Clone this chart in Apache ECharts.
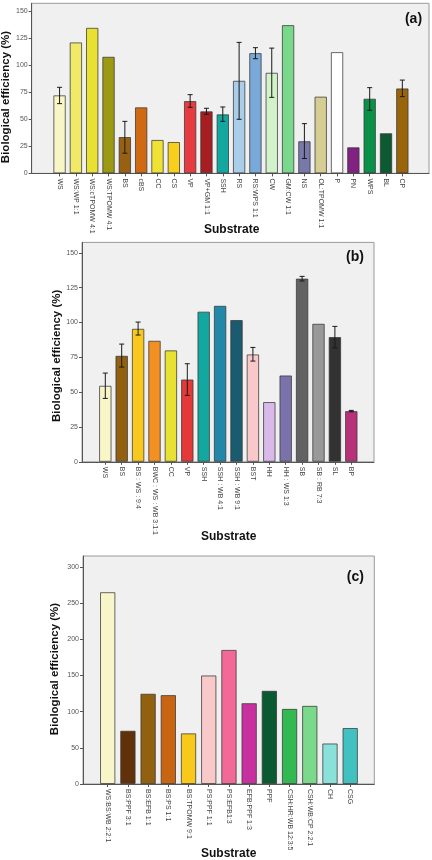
<!DOCTYPE html>
<html>
<head>
<meta charset="utf-8">
<script src="https://cdn.jsdelivr.net/npm/echarts@6/dist/echarts.min.js"></script>
<style>
html,body{margin:0;padding:0;background:#fff;}
#chart{width:432px;height:860px;}
</style>
</head>
<body>
<div id="chart"></div>
<script>
// ---------- Panel (a) ----------
const aCategories = ["WS","WS:WP 1:1","WS:cTPOMW 4:1","WS:TPOMW 4:1","BS","cBS","CC","CS","VP","VP+GM 1:1","SSH","RS","RS:WPS 1:1","CW","GM:CW 1:1","NS","OL:TPOMW 1:1","P","PN","WPS","BL","CP"];
const aValues = [72.3,121.3,134.8,108,33.7,61.2,31,29.1,67,57.5,54.7,85.8,111.4,93.2,137.3,29.8,71.1,112.3,24.2,69.2,37.2,78.7];
const aErrHigh = [79.7,null,null,null,48.2,null,null,null,72.9,60.3,61.5,121.3,116.4,116,null,46.1,null,null,null,79.4,null,86.4];
const aErrLow  = [64.6,null,null,null,18.7,null,null,null,61.2,54.7,48.2,50.1,106.2,70.4,null,13.8,null,null,null,58.4,null,71.1];
const aColors = ["#f8f5c6","#f0ea68","#e9e132","#9c9a12","#976012","#d06a12","#f0e234","#f9cf1e","#e63b40","#a61d22","#12a8a0","#aacde9","#79a9d8","#d2f2ca","#79d88b","#7878aa","#d5cd92","#ffffff","#812282","#0a9149","#0b5a31","#9a650a"];
const aTicks = [0,25,50,75,100,125,150];

// ---------- Panel (b) ----------
const bCategories = ["WS","BS","BS : WS : 9:4","BWC : WS : WB 3:1:1","CC","VP","SSH","SSH : WB 4:1","SSH : WB 9:1","BST","HH","HH : WS 1:3","SB","SB : RB 7:3","SL","BP"];
const bValues = [54.6,76.1,95.5,86.9,80,59.1,107.8,112,101.8,77.1,42.9,62,131.5,99.1,89.6,36.4];
const bErrHigh = [63.7,84.5,100.3,null,null,70.4,null,null,null,82.1,null,null,133.1,null,97.2,36.9];
const bErrLow  = [45.5,68,91,null,null,47.7,null,null,null,72.3,null,null,129.8,null,81.7,35.9];
const bColors = ["#f8f5c8","#916110","#f9c81e","#f29122","#e8e132","#e53838","#12a8a0","#2188a9","#1a5b70","#f9c9c9","#d9b9e9","#7a72aa","#626262","#999999","#323232","#b8327a"];
const bTicks = [0,25,50,75,100,125,150];

// ---------- Panel (c) ----------
const cCategories = ["WS:BS:WB 2:2:1","BS:PPF 3:1","BS:EFB 1:1","BS:PS 1:1","BS:TPOMW 9:1","PS:PPF 1:1","PS:EFB1:3","EFB:PPF 1:3","PPF","CSH:HR:WB 12:3:5","CSH:WB:CP 2:2:1","CH","CSG"];
const cValues = [265,73.6,124.7,122.8,70,150,185.3,111.7,128.8,103.8,108,56,77.4];
const cColors = ["#f8f6c8","#613209","#916110","#c86512","#f8c91a","#f9c8c9","#f26998","#c8309f","#0a5a31","#32b952","#7ad98a","#8ae1d9","#42c1c1"];
const cTicks = [0,50,100,150,200,250,300];

const FONT = "Liberation Sans, Arial, sans-serif";

const panels = [
  {cats:aCategories, vals:aValues, hi:aErrHigh, lo:aErrLow, colors:aColors, ticks:aTicks, interval:25, max:157.5,
   frame:{left:31.7, top:3.3, right:429, bottom:173.4}, band:{left:51.4, right:410.5},
   ytitle:[5.5,97], xtitle:[231.7,230], tag:"(a)", tagPos:[413.5,19]},
  {cats:bCategories, vals:bValues, hi:bErrHigh, lo:bErrLow, colors:bColors, ticks:bTicks, interval:25, max:157.5,
   frame:{left:82, top:242.4, right:374, bottom:461.8}, band:{left:97.1, right:359.5},
   ytitle:[56.7,355.8], xtitle:[228.7,536.7], tag:"(b)", tagPos:[355,257.5]},
  {cats:cCategories, vals:cValues, hi:null, lo:null, colors:cColors, ticks:cTicks, interval:50, max:315,
   frame:{left:83, top:556, right:374.3, bottom:784}, band:{left:97.6, right:360.3},
   ytitle:[55,669], xtitle:[228.7,853.3], tag:"(c)", tagPos:[355.3,576.7]}
];

const W = 432, H = 860;
const grid = [], xAxis = [], yAxis = [], series = [], graphic = [];

panels.forEach((p, i) => {
  const gFrame = grid.length;
  grid.push({left:p.frame.left, top:p.frame.top, width:p.frame.right-p.frame.left, height:p.frame.bottom-p.frame.top,
    show:true, backgroundColor:'#f0f0f0', borderColor:'#9a9a9a', borderWidth:1, containLabel:false});
  const gBars = grid.length;
  grid.push({left:p.band.left, top:p.frame.top, width:p.band.right-p.band.left, height:p.frame.bottom-p.frame.top, containLabel:false});

  // frame axes
  const xFrame = xAxis.length;
  xAxis.push({gridIndex:gFrame, type:'value', min:0, max:1, axisLabel:{show:false}, axisTick:{show:false}, splitLine:{show:false},
    axisLine:{show:true, onZero:false, lineStyle:{color:'#555', width:1}}});
  const yFrame = yAxis.length;
  yAxis.push({gridIndex:gFrame, type:'value', min:0, max:p.max, interval:p.interval, splitLine:{show:false},
    axisLine:{show:true, onZero:false, lineStyle:{color:'#555', width:1}},
    axisTick:{show:true, length:3, lineStyle:{color:'#555'}},
    axisLabel:{color:'#555', fontSize:7, fontFamily:FONT, margin:4, showMaxLabel:false,
      formatter: v => (p.ticks.indexOf(v) >= 0 ? String(v) : '')}});
  series.push({type:'line', xAxisIndex:xFrame, yAxisIndex:yFrame, data:[], silent:true});

  // bar axes
  const xBars = xAxis.length;
  xAxis.push({gridIndex:gBars, type:'category', data:p.cats, boundaryGap:true,
    axisLine:{show:false},
    axisTick:{show:true, alignWithLabel:true, length:3, lineStyle:{color:'#555'}},
    axisLabel:{interval:0, rotate:-90, fontSize:7, color:'#444', fontFamily:FONT, margin:5}});
  const yBars = yAxis.length;
  yAxis.push({gridIndex:gBars, type:'value', min:0, max:p.max, show:false, splitLine:{show:false}});

  series.push({type:'bar', xAxisIndex:xBars, yAxisIndex:yBars, barCategoryGap:'24%',
    data:p.vals.map((v, k) => ({value:v, itemStyle:{color:p.colors[k]}})),
    itemStyle:{borderColor:'rgba(55,55,55,0.75)', borderWidth:1}});

  if (p.hi) {
    const errData = [];
    p.vals.forEach((v, k) => { if (p.hi[k] != null) errData.push([k, p.lo[k], p.hi[k]]); });
    series.push({type:'custom', xAxisIndex:xBars, yAxisIndex:yBars, z:10, silent:true,
      encode:{x:0, y:[1,2]}, data:errData,
      renderItem:(params, api) => {
        const x = api.value(0);
        const a = api.coord([x, api.value(1)]);
        const b = api.coord([x, api.value(2)]);
        const hw = 2.5;
        const st = {stroke:'#1a1a1a', lineWidth:1};
        return {type:'group', children:[
          {type:'line', shape:{x1:a[0], y1:a[1], x2:b[0], y2:b[1]}, style:st},
          {type:'line', shape:{x1:a[0]-hw, y1:a[1], x2:a[0]+hw, y2:a[1]}, style:st},
          {type:'line', shape:{x1:b[0]-hw, y1:b[1], x2:b[0]+hw, y2:b[1]}, style:st}
        ]};
      }});
  }

  graphic.push({type:'text', x:p.ytitle[0], y:p.ytitle[1], rotation:Math.PI/2,
    style:{text:'Biological efficiency (%)', font:'bold 11.5px ' + FONT, fill:'#111', align:'center', verticalAlign:'middle'}});
  graphic.push({type:'text', x:p.xtitle[0], y:p.xtitle[1],
    style:{text:'Substrate', font:'bold 12px ' + FONT, fill:'#111', align:'center', verticalAlign:'middle'}});
  graphic.push({type:'text', x:p.tagPos[0], y:p.tagPos[1], z:100,
    style:{text:p.tag, font:'bold 14px ' + FONT, fill:'#111', align:'center', verticalAlign:'middle'}});
});

const chart = echarts.init(document.getElementById('chart'), null, {renderer:'canvas', width:W, height:H});
chart.setOption({animation:false, backgroundColor:'#ffffff', grid, xAxis, yAxis, series, graphic});
</script>
</body>
</html>
